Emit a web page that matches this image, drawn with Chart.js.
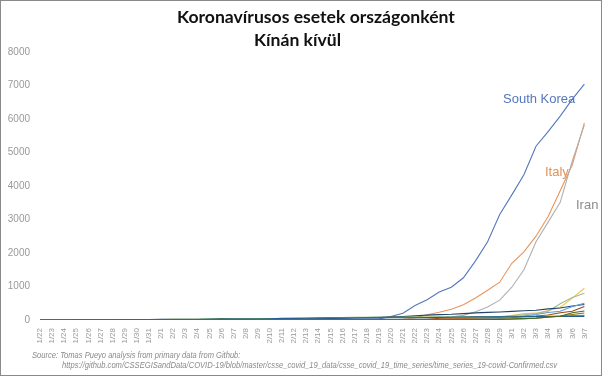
<!DOCTYPE html>
<html>
<head>
<meta charset="utf-8">
<script src="https://cdn.jsdelivr.net/npm/chart.js@4/dist/chart.umd.min.js"></script>
<style>
  body { margin: 0; background: #fff; }
  #wrap { position: relative; width: 602px; height: 376px; overflow: hidden; }
  #frame { position: absolute; left: 0; top: 0; width: 602px; height: 376px; box-sizing: border-box; border: 1px solid #8a8a8a; pointer-events: none; }
  canvas { position: absolute; left: 0; top: 0; }
  .title { position: absolute; font-family: Lato, "Liberation Sans", sans-serif; font-weight: bold; font-size: 17.6px; color: #111; white-space: nowrap; }
  .src { position: absolute; font-family: "Liberation Sans", sans-serif; font-style: italic; font-size: 8.5px; color: #8a8a8a; white-space: nowrap; transform-origin: 0 0; }
  .lbl { position: absolute; font-family: "Liberation Sans", Arial, sans-serif; font-size: 13px; white-space: nowrap; }
</style>
</head>
<body>
<div id="wrap">
  <canvas id="chart" width="602" height="376"></canvas>
  <div class="title" style="left:177px; top:6px;">Koronavírusos esetek országonként</div>
  <div class="title" style="left:254px; top:29px;">Kínán kívül</div>
  <div class="lbl" style="left:503px; top:91px; color:#5577bb;">South Korea</div>
  <div class="lbl" style="left:545px; top:164px; color:#e0925a;">Italy</div>
  <div class="lbl" style="left:576px; top:197px; color:#8c8c8c;">Iran</div>
  <div class="src" data-w="208" style="left:32px; top:350px;">Source: Tomas Pueyo analysis from primary data from Github:</div>
  <div class="src" data-w="495" style="left:62px; top:360px;">https://github.com/CSSEGISandData/COVID-19/blob/master/csse_covid_19_data/csse_covid_19_time_series/time_series_19-covid-Confirmed.csv</div>
  <div id="frame"></div>
</div>
<script>
const dates = ['1/22','1/23','1/24','1/25','1/26','1/27','1/28','1/29','1/30','1/31',
  '2/1','2/2','2/3','2/4','2/5','2/6','2/7','2/8','2/9','2/10','2/11','2/12','2/13','2/14','2/15',
  '2/16','2/17','2/18','2/19','2/20','2/21','2/22','2/23','2/24','2/25','2/26','2/27','2/28','2/29',
  '3/1','3/2','3/3','3/4','3/5','3/6','3/7'];

const southKorea = [1,1,2,2,3,4,4,4,4,11,
  12,15,15,16,19,23,24,24,25,27,28,28,28,28,28,29,30,31,31,104,204,433,602,833,977,1261,1766,2337,3150,
  3736,4335,5186,5621,6088,6593,7041];
const italy = [0,0,0,0,0,0,0,0,0,2,
  2,2,2,2,2,2,3,3,3,3,3,3,3,3,3,3,3,3,3,3,20,62,155,229,322,453,655,888,1128,
  1694,2036,2502,3089,3858,4636,5883];
const iran = [0,0,0,0,0,0,0,0,0,0,
  0,0,0,0,0,0,0,0,0,0,0,0,0,0,0,0,0,0,2,5,18,28,43,61,95,139,245,388,593,
  978,1501,2336,2922,3513,4747,5823];
const japan = [2,1,2,2,4,4,7,7,11,15,
  20,20,20,22,22,45,25,25,26,26,26,28,28,29,43,59,66,74,84,94,105,122,147,159,170,189,214,228,241,
  256,274,293,331,360,420,461];
const france = [0,0,2,3,3,3,4,5,5,5,
  6,6,6,6,6,6,6,11,11,11,11,11,11,11,12,12,12,12,12,12,12,12,12,12,14,18,38,57,100,
  130,191,204,285,377,653,949];
const germany = [0,0,0,0,0,1,4,4,4,5,
  8,10,12,12,12,12,13,13,14,14,16,16,16,16,16,16,16,16,16,16,16,16,16,16,17,27,46,48,79,
  130,159,196,262,482,670,799];
const spain = [0,0,0,0,0,0,0,0,0,0,
  1,1,1,1,1,1,1,1,2,2,2,2,2,2,2,2,2,2,2,2,2,2,2,2,6,13,15,32,45,
  84,120,165,222,259,400,500];
const us = [1,1,2,2,5,5,5,5,5,7,
  8,8,11,11,11,11,11,11,11,11,12,12,13,13,13,13,13,13,13,13,15,15,15,51,51,57,58,60,68,
  74,98,118,149,217,262,402];
const singapore = [0,1,3,3,4,5,7,7,10,13,
  16,18,18,24,28,28,30,33,40,45,47,50,58,67,72,75,77,81,84,84,85,85,89,89,91,93,93,93,102,
  106,108,110,110,117,130,138];
const hongKong = [0,2,2,5,8,8,8,10,10,13,
  14,15,15,17,21,24,25,26,29,38,49,50,53,56,56,57,60,62,63,68,68,69,74,79,84,91,92,94,95,
  96,100,100,105,105,107,108];
const switzerland = [0,0,0,0,0,0,0,0,0,0,
  0,0,0,0,0,0,0,0,0,0,0,0,0,0,0,0,0,0,0,0,0,0,0,0,1,1,8,8,18,
  27,42,56,90,114,214,268];
const uk = [0,0,0,0,0,0,0,0,0,2,
  2,2,2,2,2,2,2,2,2,8,8,9,9,9,9,9,9,9,9,9,9,9,9,9,13,13,15,20,23,
  36,40,51,86,116,164,207];

const yTicks = [0,1000,2000,3000,4000,5000,6000,7000,8000];

const series = [
  ['Switzerland', switzerland, '#43682b'],
  ['UK', uk, '#997300'],
  ['Hong Kong', hongKong, '#255e91'],
  ['Singapore', singapore, '#70ad47'],
  ['Spain', spain, '#5b9bd5'],
  ['US', us, '#9e480e'],
  ['Japan', japan, '#24446e'],
  ['Germany', germany, '#9dbb98'],
  ['France', france, '#f2c744'],
  ['Iran', iran, '#b0b0b0'],
  ['Italy', italy, '#e8955a'],
  ['South Korea', southKorea, '#5577bb']
];

// squeeze the source lines to the width they take in the original
document.querySelectorAll('.src').forEach(el => {
  const target = +el.dataset.w;
  el.style.transform = 'scaleX(' + (target / el.offsetWidth) + ')';
});

new Chart(document.getElementById('chart'), {
  type: 'line',
  data: {
    labels: dates,
    datasets: series.map(s => ({
      label: s[0],
      data: s[1],
      borderColor: s[2],
      backgroundColor: s[2],
      borderWidth: 1.1,
      pointRadius: 0,
      tension: 0,
      fill: false
    }))
  },
  options: {
    responsive: false,
    animation: false,
    layout: { padding: { left: 6, top: 52, right: 9, bottom: 0 } },
    plugins: { legend: { display: false }, tooltip: { enabled: false } },
    scales: {
      y: {
        min: 0,
        max: 8000,
        afterFit: s => { s.width = 34; },
        afterBuildTicks: s => { s.ticks = yTicks.map(v => ({ value: v })); },
        grid: { display: false, drawTicks: false },
        border: { display: false },
        ticks: {
          color: '#999', padding: 10, font: { family: 'Liberation Sans', size: 10 },
          callback: v => String(v)
        }
      },
      x: {
        afterFit: s => { s.height = 56; },
        grid: { display: false, drawTicks: false },
        border: { display: false },
        ticks: {
          autoSkip: false, minRotation: 90, maxRotation: 90, padding: 8,
          color: '#999', font: { family: 'Liberation Sans', size: 8 }
        }
      }
    }
  }
});
</script>
</body>
</html>
